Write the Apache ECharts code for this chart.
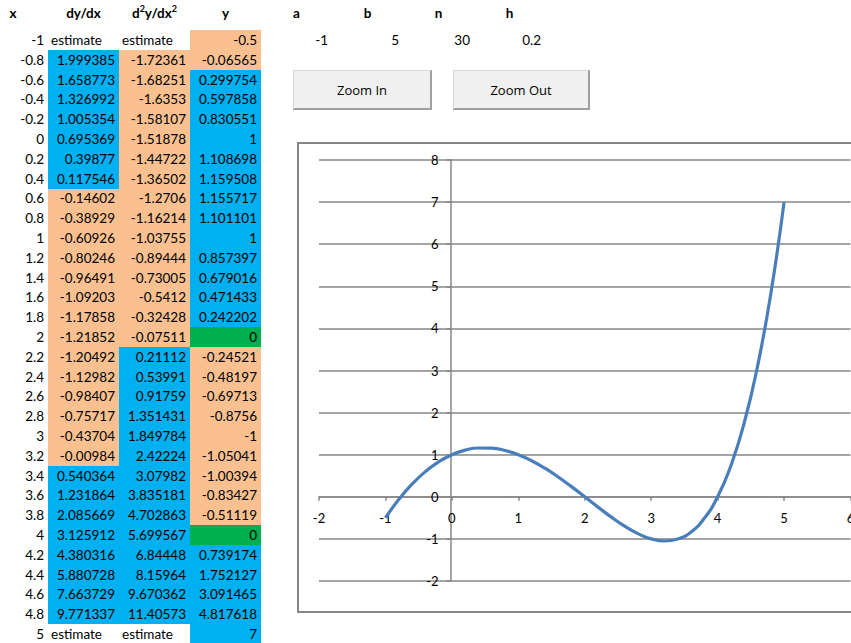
<!DOCTYPE html>
<html><head><meta charset="utf-8">
<script src="https://cdn.jsdelivr.net/npm/echarts@6/dist/echarts.min.js"></script>
<style>
html,body{margin:0;padding:0;width:851px;height:643px;overflow:hidden;background:#fff;font-family:Lato,"Liberation Sans",sans-serif;}
#tbl{position:absolute;left:0;top:0;width:560px;height:643px}
.c{position:absolute;font-size:13.5px;color:#000;box-sizing:border-box;white-space:nowrap}
.r{text-align:right;padding-right:4px}
.l{text-align:left;padding-left:3px}
.h{position:absolute;font-weight:bold;font-size:13.5px;text-align:center;top:3px;height:20px;line-height:20px}
.h sup{font-size:9px;line-height:0;vertical-align:6px}
.btn{position:absolute;top:70px;height:40px;background:#f0f0f0;border:1px solid #d9d9d9;border-right:2px solid #a0a0a0;border-bottom:2px solid #a0a0a0;box-sizing:border-box;font-family:"Open Sans",sans-serif;font-size:13px;display:flex;align-items:center;justify-content:center;color:#000}
#frame{position:absolute;left:297px;top:142px;width:600px;height:471px;border:2px solid #868686;box-sizing:border-box}
#chart{position:absolute;left:297px;top:142px;width:640px;height:471px}
</style>
</head><body>
<div id="tbl"></div>
<div class="btn" style="left:293px;width:139px">Zoom In</div>
<div class="btn" style="left:453px;width:137px">Zoom Out</div>
<div id="frame"></div>
<div id="chart"></div>
<script>
// x values (row labels / series x)
const xValues = [-1, -0.8, -0.6, -0.4, -0.2, 0, 0.2, 0.4, 0.6, 0.8, 1, 1.2, 1.4, 1.6, 1.8, 2, 2.2, 2.4, 2.6, 2.8, 3, 3.2, 3.4, 3.6, 3.8, 4, 4.2, 4.4, 4.6, 4.8, 5];
// dy/dx column (null = "estimate")
const dydx = [null, 1.999385, 1.658773, 1.326992, 1.005354, 0.695369, 0.39877, 0.117546, -0.14602, -0.38929, -0.60926, -0.80246, -0.96491, -1.09203, -1.17858, -1.21852, -1.20492, -1.12982, -0.98407, -0.75717, -0.43704, -0.00984, 0.540364, 1.231864, 2.085669, 3.125912, 4.380316, 5.880728, 7.663729, 9.771337, null];
// d2y/dx2 column
const d2ydx2 = [null, -1.72361, -1.68251, -1.6353, -1.58107, -1.51878, -1.44722, -1.36502, -1.2706, -1.16214, -1.03755, -0.89444, -0.73005, -0.5412, -0.32428, -0.07511, 0.21112, 0.53991, 0.91759, 1.351431, 1.849784, 2.42224, 3.07982, 3.835181, 4.702863, 5.699567, 6.84448, 8.15964, 9.670362, 11.40573, null];
// y column
const yValues = [-0.5, -0.06565, 0.299754, 0.597858, 0.830551, 1, 1.108698, 1.159508, 1.155717, 1.101101, 1, 0.857397, 0.679016, 0.471433, 0.242202, 0, -0.24521, -0.48197, -0.69713, -0.8756, -1, -1.05041, -1.00394, -0.83427, -0.51119, 0, 0.739174, 1.752127, 3.091465, 4.817618, 7];
// parameters
const paramNames = ['a', 'b', 'n', 'h'];
const paramValues = [-1, 5, 30, 0.2];
// chart axis ticks
const xTicks = [-2, -1, 0, 1, 2, 3, 4, 5, 6];
const yTicks = [-2, -1, 0, 1, 2, 3, 4, 5, 6, 7, 8];

// ---- table (spreadsheet) ----
const tbl = document.getElementById('tbl');
const ROW0 = 30.1, RH = 19.8;
const colLeft = [0, 48, 119, 190, 261, 332, 403, 474];
const colW = [48, 71, 71, 71, 71, 71, 71, 71];
function fill(v) {
  if (v === 0) return '#00B050';
  return v > 0 ? '#00B0F0' : '#FAC090';
}
function cell(col, row, text, bg, cls) {
  const d = document.createElement('div');
  d.className = 'c ' + cls;
  const t = Math.round(ROW0 + row * RH), b = Math.round(ROW0 + (row + 1) * RH);
  d.style.left = colLeft[col] + 'px';
  d.style.width = colW[col] + 'px';
  d.style.top = t + 'px';
  d.style.height = (b - t) + 'px';
  d.style.lineHeight = (b - t) + 'px';
  if (bg) d.style.background = bg;
  d.textContent = text;
  tbl.appendChild(d);
}
function header(col, html, left) {
  const d = document.createElement('div');
  d.className = 'h';
  d.style.left = (left !== undefined ? left : colLeft[col]) + 'px';
  d.style.width = colW[col] + 'px';
  d.innerHTML = html;
  tbl.appendChild(d);
}
header(0, 'x', -11);
header(1, 'dy/dx');
header(2, 'd<sup>2</sup>y/dx<sup>2</sup>');
header(3, 'y');
paramNames.forEach((p, i) => header(4 + i, p));
paramValues.forEach((v, i) => cell(4 + i, 0, String(v), null, 'r'));
xValues.forEach((x, i) => {
  cell(0, i, String(x), null, 'r');
  const a = dydx[i], b = d2ydx2[i], y = yValues[i];
  if (a === null) cell(1, i, 'estimate', null, 'l'); else cell(1, i, String(a), fill(a), 'r');
  if (b === null) cell(2, i, 'estimate', null, 'l'); else cell(2, i, String(b), fill(b), 'r');
  cell(3, i, String(y), fill(y), 'r');
});

// ---- chart ----
const chart = echarts.init(document.getElementById('chart'), null, {renderer: 'svg'});
const axisColor = '#868686';
const option = {
  animation: false,
  grid: {left: 22, top: 18, width: 531.5, height: 421, containLabel: false},
  xAxis: {
    type: 'value', position: 'bottom', min: xTicks[0], max: xTicks[xTicks.length - 1], interval: 1,
    axisLine: {show: true, onZero: false, lineStyle: {color: axisColor, width: 1.5}},
    axisTick: {show: true, length: 4, lineStyle: {color: axisColor, width: 1.5}},
    axisLabel: {color: '#000', fontSize: 13, fontFamily: 'Lato', margin: 15, showMaxLabel: true},
    splitLine: {show: false}
  },
  yAxis: {
    type: 'value', position: 'left', min: yTicks[0], max: yTicks[yTicks.length - 1], interval: 1,
    axisLine: {show: true, onZero: false, lineStyle: {color: axisColor, width: 1.5}},
    axisTick: {show: true, length: 4, lineStyle: {color: axisColor, width: 1.5}},
    axisLabel: {color: '#000', fontSize: 13, fontFamily: 'Lato', margin: 12},
    splitLine: {show: true, lineStyle: {color: axisColor, width: 1.5}}
  },
  series: [{
    type: 'line',
    data: xValues.map((x, i) => [x, yValues[i]]),
    smooth: true,
    showSymbol: false,
    lineStyle: {color: '#4A7EBB', width: 3.2},
    itemStyle: {color: '#4A7EBB'}
  }]
};
chart.setOption(option);
// place each axis across the other's zero, using the library's own scale
const origin = chart.convertToPixel({gridIndex: 0}, [0, 0]);
const corner = chart.convertToPixel({gridIndex: 0}, [xTicks[0], yTicks[0]]);
chart.setOption({
  yAxis: {offset: -(origin[0] - corner[0])},
  xAxis: {offset: -(corner[1] - origin[1])}
});
</script>
</body></html>
